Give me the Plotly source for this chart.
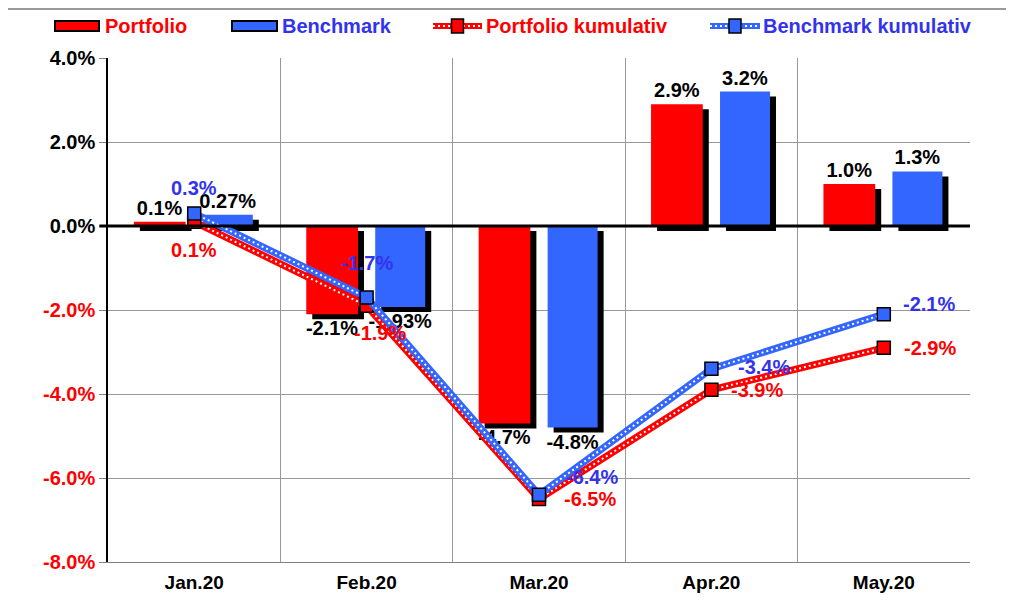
import plotly.graph_objects as go

months = ["Jan.20", "Feb.20", "Mar.20", "Apr.20", "May.20"]
portfolio = [0.1, -2.1, -4.7, 2.9, 1.0]
benchmark = [0.27, -1.93, -4.8, 3.2, 1.3]
portfolio_labels = ["0.1%", "-2.1%", "-4.7%", "2.9%", "1.0%"]
benchmark_labels = ["0.27%", "-1.93%", "-4.8%", "3.2%", "1.3%"]
portfolio_cum = [0.1, -1.9, -6.5, -3.9, -2.9]
benchmark_cum = [0.3, -1.7, -6.4, -3.4, -2.1]
portfolio_cum_labels = ["0.1%", "-1.9%", "-6.5%", "-3.9%", "-2.9%"]
benchmark_cum_labels = ["0.3%", "-1.7%", "-6.4%", "-3.4%", "-2.1%"]
y_ticks = [4, 2, 0, -2, -4, -6, -8]
series_names = ["Portfolio", "Benchmark", "Portfolio kumulativ", "Benchmark kumulativ"]

RED = "#ff0000"
BLUE = "#3366ff"
BLUE_TXT = "#3333ee"
FONT = "Liberation Sans, Arial, sans-serif"
FS = 20

# geometry (page has an 8px body margin)
PAGE_OFF = 8
W, H = 998, 589
ML, MR, MT, MB = 100, 36, 50, 35
plot_w = W - ML - MR
plot_h = H - MT - MB
yrange = [-8, 4]
cat_px = plot_w / len(months)
dx = 6 / cat_px
dy = 5 * (yrange[1] - yrange[0]) / plot_h
bw_p, off_p = 0.30, -0.35
bw_b, off_b = 0.29, 0.05


def px_x(page_x):
    return (page_x - PAGE_OFF - ML) / plot_w


def px_y(page_y):
    return 1 + (MT - (page_y - PAGE_OFF)) / plot_h


fig = go.Figure()

# bar shadows
for vals, off, bw in [(portfolio, off_p, bw_p), (benchmark, off_b, bw_b)]:
    fig.add_trace(go.Bar(
        x=months, y=vals, base=[-dy] * len(vals), offset=off + dx, width=bw,
        marker=dict(color="black", line=dict(width=0)),
        showlegend=False, hoverinfo="skip"))

for vals, labels, off, bw, col, name in [
        (portfolio, portfolio_labels, off_p, bw_p, RED, series_names[0]),
        (benchmark, benchmark_labels, off_b, bw_b, BLUE, series_names[1])]:
    fig.add_trace(go.Bar(
        x=months, y=vals, offset=off, width=bw, name=name, showlegend=False,
        marker=dict(color=col, line=dict(width=0)),
        text=labels, textposition="outside", constraintext="none",
        textfont=dict(family=FONT, size=FS, color="black", weight="bold"),
        cliponaxis=False))

annotations = []
p_shift = [(0, -28), (13, -27), (51, 0), (46, 0), (46, 0)]
b_shift = [(0, 25), (0, 34), (53, 18), (53, 2), (45, 10)]

for vals, labels, shifts, col, tcol, name in [
        (portfolio_cum, portfolio_cum_labels, p_shift, RED, RED, series_names[2]),
        (benchmark_cum, benchmark_cum_labels, b_shift, BLUE, BLUE_TXT, series_names[3])]:
    fig.add_trace(go.Scatter(
        x=months, y=vals, mode="lines", name=name, showlegend=False,
        line=dict(color=col, width=7), cliponaxis=False))
    fig.add_trace(go.Scatter(
        x=months, y=vals, mode="lines", showlegend=False, hoverinfo="skip",
        line=dict(color="white", width=2, dash="2px,3px"), cliponaxis=False))
    fig.add_trace(go.Scatter(
        x=months, y=vals, mode="markers", showlegend=False,
        marker=dict(symbol="square", size=13, color=col, line=dict(color="black", width=1.5)),
        cliponaxis=False))
    for m, v, t, (sx, sy) in zip(months, vals, labels, shifts):
        annotations.append(dict(
            x=m, y=v, xref="x", yref="y", text=t, showarrow=False,
            xshift=sx, yshift=sy,
            font=dict(family=FONT, size=FS, color=tcol, weight="bold")))

# custom legend (page pixel positions)
LEG_Y = 26
shapes = []
legend_items = [
    ("bar", RED, RED, 55, 99, 103),
    ("bar", BLUE, BLUE_TXT, 232, 277, 280),
    ("line", RED, RED, 433, 482, 484),
    ("line", BLUE, BLUE_TXT, 710, 760, 761),
]
for (kind, col, tcol, x0, x1, tx), name in zip(legend_items, series_names):
    if kind == "bar":
        shapes.append(dict(type="rect", xref="paper", yref="paper",
                           x0=px_x(x0), x1=px_x(x1), y0=px_y(LEG_Y - 5), y1=px_y(LEG_Y + 5),
                           fillcolor=col, line=dict(color="black", width=2), layer="above"))
    else:
        shapes.append(dict(type="line", xref="paper", yref="paper",
                           x0=px_x(x0), x1=px_x(x1), y0=px_y(LEG_Y), y1=px_y(LEG_Y),
                           line=dict(color=col, width=6), layer="above"))
        shapes.append(dict(type="line", xref="paper", yref="paper",
                           x0=px_x(x0), x1=px_x(x1), y0=px_y(LEG_Y), y1=px_y(LEG_Y),
                           line=dict(color="white", width=2, dash="2px,3px"), layer="above"))
        cx = (x0 + x1) / 2
        shapes.append(dict(type="rect", xref="paper", yref="paper",
                           x0=px_x(cx - 6), x1=px_x(cx + 6), y0=px_y(LEG_Y - 7), y1=px_y(LEG_Y + 7),
                           fillcolor=col, line=dict(color="black", width=1.5), layer="above"))
    annotations.append(dict(x=px_x(tx), y=px_y(LEG_Y), xref="paper", yref="paper",
                            xanchor="left", yanchor="middle", text=name, showarrow=False,
                            font=dict(family=FONT, size=FS, color=tcol, weight="bold")))

# zero line above bars
shapes.append(dict(type="line", xref="paper", yref="y", x0=-0.01, x1=1, y0=0, y1=0,
                   line=dict(color="black", width=3), layer="above"))
# thin frame line at top of the image
shapes.append(dict(type="line", xref="paper", yref="paper", x0=px_x(0), x1=px_x(1014),
                   y0=px_y(9), y1=px_y(9), line=dict(color="#777777", width=1.5)))

ticktext = []
for v in y_ticks:
    s = f"{v:.1f}%"
    ticktext.append(f"<span style='color:{RED}'>{s}</span>" if v < 0 else s)

fig.update_layout(
    width=W, height=H,
    margin=dict(l=ML, r=MR, t=MT, b=MB, autoexpand=False),
    paper_bgcolor="white", plot_bgcolor="white",
    barmode="overlay", showlegend=False,
    font=dict(family=FONT, size=FS, color="black", weight="bold"),
    xaxis=dict(type="category", range=[-0.5, len(months) - 0.5], tickson="boundaries",
               automargin=False,
               showgrid=True, gridcolor="#999999", gridwidth=1, ticks="",
               ticklabelstandoff=3,
               showline=True, linecolor="#808080", linewidth=1,
               tickfont=dict(family=FONT, size=19, color="black", weight="bold")),
    yaxis=dict(range=yrange, tickvals=y_ticks, ticktext=ticktext, automargin=False,
               showgrid=True, gridcolor="#999999", gridwidth=1, zeroline=False,
               showline=True, linecolor="black", linewidth=1.5,
               ticks="outside", ticklen=7, tickcolor="#808080",
               tickfont=dict(family=FONT, size=FS, color="black", weight="bold")),
    shapes=shapes,
    annotations=annotations,
)

fig.write_html("out.html")
